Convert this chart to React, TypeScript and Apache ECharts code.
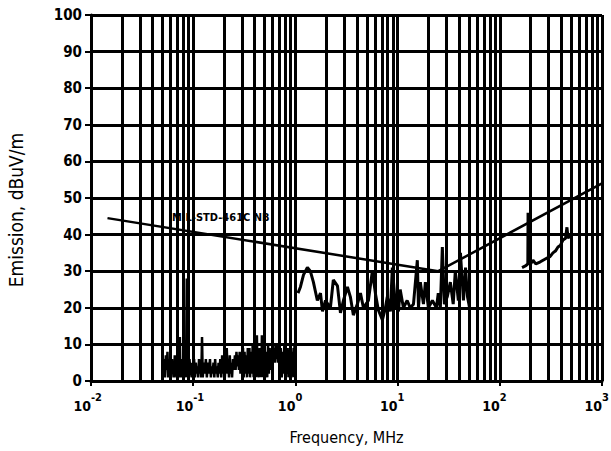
import React, { useEffect, useRef } from "react";
import * as echarts from "echarts";

// Limit line MIL-STD-461C NB: [frequency MHz, dBuV/m]
const limitLine: [number, number][] = [
  [0.0145, 44.5],
  [25, 30],
  [1000, 54],
];

// Measured emission, band 1 (0.05 - 1 MHz)
const band1: [number, number][] = [
  [0.05, 9], [0.051, 2], [0.052, 6], [0.053, 1], [0.054, 7], [0.055, 3], [0.056, 8], [0.057, 1],
  [0.058, 6], [0.059, 2], [0.06, 7], [0.061, 1], [0.062, 6], [0.063, 2], [0.064, 5], [0.065, 1],
  [0.066, 7], [0.067, 2], [0.068, 5], [0.069, 1], [0.07, 6], [0.071, 2], [0.072, 4], [0.073, 1],
  [0.074, 12], [0.075, 1], [0.076, 6], [0.077, 2], [0.078, 5], [0.079, 1], [0.08, 6], [0.081, 2],
  [0.082, 5], [0.083, 1], [0.084, 4], [0.085, 1], [0.0865, 28], [0.088, 2], [0.089, 5], [0.091, 1],
  [0.092, 6], [0.094, 2], [0.095, 4], [0.097, 1], [0.098, 5], [0.1, 2], [0.102, 6], [0.104, 1],
  [0.106, 5], [0.108, 2], [0.11, 4], [0.112, 1], [0.114, 6], [0.116, 2], [0.118, 5], [0.12, 1],
  [0.122, 12], [0.124, 1], [0.127, 5], [0.13, 2], [0.133, 6], [0.136, 1], [0.139, 5], [0.142, 2],
  [0.146, 6], [0.149, 1], [0.152, 4], [0.155, 2], [0.158, 5], [0.161, 1], [0.164, 6], [0.167, 2],
  [0.17, 4], [0.174, 1], [0.177, 5], [0.181, 2], [0.184, 6], [0.188, 1], [0.192, 7], [0.196, 2],
  [0.2, 5], [0.204, 1], [0.208, 6], [0.213, 9], [0.217, 2], [0.22, 6], [0.224, 1], [0.228, 7],
  [0.232, 2], [0.236, 5], [0.24, 1], [0.245, 6], [0.25, 3], [0.256, 7], [0.26, 3], [0.265, 8],
  [0.27, 4], [0.275, 7], [0.28, 3], [0.285, 8], [0.29, 2], [0.296, 7], [0.3, 2], [0.307, 9],
  [0.312, 1], [0.318, 8], [0.324, 2], [0.33, 7], [0.336, 1], [0.342, 9], [0.348, 2], [0.355, 9],
  [0.36, 1], [0.368, 8], [0.375, 2], [0.382, 10], [0.39, 1], [0.396, 8], [0.403, 2], [0.41, 8],
  [0.415, 1], [0.42, 12.5], [0.426, 2], [0.432, 8], [0.44, 1], [0.447, 9], [0.453, 2], [0.46, 8],
  [0.465, 1], [0.47, 12.5], [0.478, 2], [0.485, 9], [0.492, 1], [0.5, 9], [0.51, 2], [0.52, 8],
  [0.53, 1], [0.54, 10], [0.55, 2], [0.56, 9], [0.57, 3], [0.58, 8], [0.59, 4], [0.6, 9],
  [0.61, 5], [0.62, 9], [0.63, 5], [0.64, 10], [0.65, 6], [0.66, 10], [0.675, 5], [0.69, 9],
  [0.705, 2], [0.72, 9], [0.735, 1], [0.75, 8], [0.765, 2], [0.78, 10], [0.795, 1], [0.81, 9],
  [0.825, 2], [0.84, 9], [0.855, 1], [0.87, 8], [0.885, 2], [0.9, 9], [0.915, 1], [0.93, 8],
  [0.945, 2], [0.96, 9], [0.97, 1], [0.98, 10], [0.99, 1], [1.0, 10],
];

// Measured emission, band 2 (1 - 50 MHz)
const band2: [number, number][] = [
  [1.06, 24], [1.12, 25.7], [1.2, 29], [1.31, 31], [1.4, 30], [1.5, 27], [1.64, 22], [1.76, 24],
  [1.84, 19], [1.97, 22], [2.2, 20], [2.35, 27.6], [2.58, 26], [2.76, 18.6], [2.95, 22], [3.23, 25.7],
  [3.45, 23], [3.69, 18], [4.04, 21], [4.33, 24], [4.63, 20], [5.18, 22], [5.66, 30], [6.06, 24],
  [6.48, 19.4], [7.1, 16.7], [7.6, 20], [7.93, 23], [8.5, 19], [8.88, 31], [9.5, 21], [10.2, 19],
  [10.6, 25], [11.4, 20], [12.4, 22], [13.3, 20], [14.3, 21], [15.6, 33], [16.0, 20], [16.7, 27],
  [17.9, 21], [18.7, 27], [20.0, 20], [21.9, 22], [24.0, 20], [25.0, 24], [26.2, 20], [27.4, 36.6],
  [28.7, 21], [30.6, 23], [32.8, 27], [35.0, 21], [36.7, 30], [39.3, 22], [41.2, 35], [44.1, 22],
  [46.2, 31], [48.3, 23], [50.6, 20],
];

// Measured emission, band 3 (165 - 510 MHz)
const band3: [number, number][] = [
  [165, 31], [180, 31.5], [188, 32], [189, 46], [190, 33], [200, 32], [211, 33], [225, 32],
  [247, 32.5], [265, 33], [290, 33.6], [310, 34], [331, 35], [350, 35.5], [371, 36.6], [390, 37],
  [415, 38.5], [440, 39], [454, 42], [465, 39], [490, 40], [508, 40],
];

const decades = [0.01, 0.1, 1, 10, 100];
const multipliers = [2, 3, 4, 5, 6, 7, 8, 9];

const FONT = "'Liberation Sans Narrow', 'DejaVu Sans Condensed', 'Liberation Sans', sans-serif";

export default function App() {
  const ref = useRef<HTMLDivElement>(null);
  useEffect(() => {
    if (!ref.current) return;
    const chart = echarts.init(ref.current, null, { renderer: "svg", width: 611, height: 451 });
    const minorLines: { xAxis: number }[] = [];
    decades.forEach((d) => multipliers.forEach((m) => minorLines.push({ xAxis: +(d * m).toPrecision(3) })));
    chart.setOption({
      animation: false,
      backgroundColor: "#fff",
      grid: { left: 91, right: 9, top: 15, bottom: 70, containLabel: false, outerBoundsMode: "none" },
      xAxis: [
        {
          type: "log",
          logBase: 10,
          min: 0.01,
          max: 1000,
          splitNumber: 5,
          name: "Frequency, MHz",
          nameLocation: "middle",
          nameGap: 48,
          nameTextStyle: { color: "#000", fontSize: 16, fontFamily: FONT },
          axisLine: { lineStyle: { color: "#000", width: 3 } },
          axisTick: { show: true, inside: false, length: 5, lineStyle: { color: "#000", width: 2 } },
          splitLine: { show: true, lineStyle: { color: "#000", width: 3 } },
          axisLabel: {
            margin: 18,
            align: "right",
            formatter: () => "10",
            color: "#000",
            fontSize: 14,
            fontFamily: FONT,
            fontWeight: "bold",
          },
        },
        {
          type: "log",
          logBase: 10,
          min: 0.01,
          max: 1000,
          splitNumber: 5,
          position: "bottom",
          axisLine: { show: false },
          axisTick: { show: false },
          splitLine: { show: false },
          axisLabel: {
            margin: 11,
            align: "left",
            formatter: (v: number) => String(Math.round(Math.log10(v))),
            color: "#000",
            fontSize: 11,
            fontFamily: FONT,
            fontWeight: "bold",
          },
        },
      ],
      yAxis: {
        type: "value",
        min: 0,
        max: 100,
        interval: 10,
        name: "Emission, dBuV/m",
        nameLocation: "middle",
        nameGap: 66,
        nameTextStyle: { color: "#000", fontSize: 19, fontFamily: FONT, padding: [0, 24, 0, 0] },
        axisLine: { show: true, lineStyle: { color: "#000", width: 3 } },
        axisTick: { show: true, length: 6, lineStyle: { color: "#000", width: 2 } },
        splitLine: { show: true, lineStyle: { color: "#000", width: 3 } },
        axisLabel: { color: "#000", fontSize: 15, fontFamily: FONT, fontWeight: "bold", margin: 9 },
      },
      graphic: [
        {
          type: "text",
          left: 172,
          top: 212,
          style: { text: "MIL-STD-461C NB", fill: "#000", fontSize: 11, fontFamily: FONT, fontWeight: "bold" },
          z: 10,
        },
      ],
      series: [
        {
          type: "line",
          data: [],
          silent: true,
          z: 1,
          markLine: {
            silent: true,
            symbol: "none",
            label: { show: false },
            lineStyle: { color: "#000", width: 3, type: "solid" },
            data: minorLines,
          },
        },
        {
          type: "line",
          data: limitLine,
          symbol: "none",
          z: 5,
          lineStyle: { color: "#000", width: 2.5 },
        },
        { type: "line", data: band1, symbol: "none", z: 5, lineStyle: { color: "#000", width: 2.5 } },
        { type: "line", data: band2, symbol: "none", z: 5, lineStyle: { color: "#000", width: 3 } },
        { type: "line", data: band3, symbol: "none", z: 5, lineStyle: { color: "#000", width: 3 } },
      ],
    });
    return () => chart.dispose();
  }, []);
  return <div ref={ref} style={{ width: 611, height: 451, position: "fixed", left: 0, top: 0 }} />;
}
